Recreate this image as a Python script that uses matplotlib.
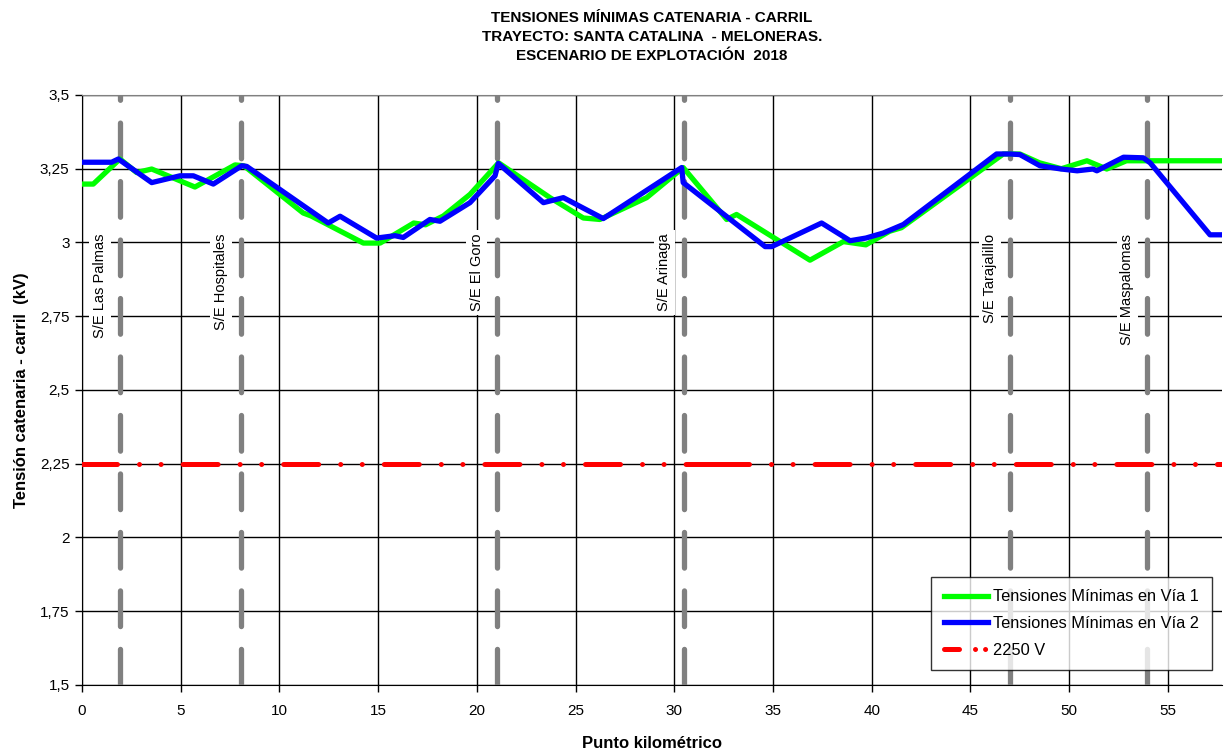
import numpy as np
import matplotlib
matplotlib.use('Agg')
import matplotlib.pyplot as plt
from matplotlib.lines import Line2D
from matplotlib.ticker import FuncFormatter, MultipleLocator

plt.rcParams['font.family'] = ['Liberation Sans', 'DejaVu Sans']

# datos (km, kV)
km_via1 = [0, 0.57, 1.92, 2.77, 3.53, 5.72, 7.75, 8.2, 11.2, 11.6, 14.25, 15.1,
           16.8, 17.4, 18.3, 19.65, 21.1, 23.7, 25.39, 26.23, 28.6, 30.45,
           32.65, 33.15, 36.87, 38.56, 39.7, 40.9, 41.5, 46.66, 47.5, 48.5,
           49.6, 50.9, 51.9, 52.9, 57.74]
v_via1 = [3.198, 3.198, 3.283, 3.237, 3.249, 3.188, 3.263, 3.26, 3.10, 3.09,
          2.998, 2.998, 3.066, 3.06, 3.09, 3.163, 3.27, 3.152, 3.083, 3.078,
          3.152, 3.254, 3.078, 3.095, 2.94, 3.003, 2.992, 3.038, 3.05, 3.30,
          3.30, 3.27, 3.25, 3.277, 3.249, 3.277, 3.277]

km_via2 = [0, 1.5, 1.84, 3.53, 4.96, 5.64, 6.65, 8.09, 8.34, 12.47, 13.07,
           14.92, 15.85, 16.27, 17.62, 18.13, 19.65, 20.92, 21.08, 23.37,
           24.38, 26.4, 30.37, 30.45, 34.6, 34.93, 37.46, 38.9, 39.7, 40.58,
           41.6, 46.32, 47.0, 47.5, 48.52, 49.6, 50.4, 51.2, 51.4, 52.75,
           53.75, 54.1, 57.13, 57.74]
v_via2 = [3.272, 3.272, 3.283, 3.203, 3.226, 3.226, 3.198, 3.26, 3.258, 3.066,
          3.089, 3.015, 3.023, 3.017, 3.078, 3.072, 3.135, 3.226, 3.268, 3.135,
          3.152, 3.081, 3.254, 3.203, 2.986, 2.986, 3.066, 3.006, 3.015, 3.032,
          3.061, 3.30, 3.30, 3.298, 3.26, 3.249, 3.243, 3.249, 3.243, 3.289,
          3.287, 3.27, 3.026, 3.026]

km_limite = [0, 32.0, 57.74]
v_limite = [2.25, 2.25, 2.25]

subestaciones = ['S/E Las Palmas', 'S/E Hospitales', 'S/E El Goro',
                 'S/E Arinaga', 'S/E Tarajalillo', 'S/E Maspalomas']
km_subest = [1.92, 8.05, 21.0, 30.5, 47.0, 53.95]

titulo = ('TENSIONES MÍNIMAS CATENARIA - CARRIL\n'
          'TRAYECTO: SANTA CATALINA  - MELONERAS.\n'
          'ESCENARIO DE EXPLOTACIÓN  2018')


def main():
    fig = plt.figure(figsize=(12.24, 7.52), dpi=100)
    ax = fig.add_axes([0.067, 0.0891, 0.9314, 0.7846])

    ax.set_xlim(0, 57.74)
    ax.set_ylim(1.5, 3.5)

    # lineas de subestaciones
    for nombre, k in zip(subestaciones, km_subest):
        ax.plot([k, k], [3.5, 1.5], color='#808080', lw=3.8,
                ls=(5.85, (6.76, 4.32)), dash_capstyle='round', zorder=3)
        ax.annotate(nombre, xy=(k, 3.03), xytext=(-20, 0),
                    textcoords='offset pixels', rotation=90, ha='center',
                    va='top', fontsize=10.5, zorder=4,
                    bbox=dict(boxstyle='square,pad=0.25', fc='white', ec='none'))

    patron = (0, (7.0, 4.4, 0.01, 4.3, 0.01, 4.4))
    for i in range(len(km_limite) - 1):
        ax.plot(km_limite[i:i + 2], v_limite[i:i + 2], color='red', lw=3.6,
                ls=patron, dash_capstyle='round', zorder=5)

    l1, = ax.plot(km_via1, v_via1, color='#00ff00', lw=3.8, zorder=6,
                  solid_joinstyle='round')
    l2, = ax.plot(km_via2, v_via2, color='#0000ff', lw=3.8, zorder=7,
                  solid_joinstyle='round')

    ax.xaxis.set_major_locator(MultipleLocator(5))
    ax.yaxis.set_major_locator(MultipleLocator(0.25))
    ax.yaxis.set_major_formatter(
        FuncFormatter(lambda v, p: ('%g' % v).replace('.', ',')))
    ax.grid(True, color='black', lw=1.0)
    ax.set_axisbelow(True)
    ax.tick_params(labelsize=11, length=5, width=1, color='black')
    ax.tick_params(axis='x', pad=9)
    ax.tick_params(axis='y', pad=4)
    for s in ['left', 'bottom']:
        ax.spines[s].set_color('black')
    ax.spines['top'].set_color('#808080')
    ax.spines['right'].set_visible(False)

    ax.set_xlabel('Punto kilométrico', fontsize=12, fontweight='bold',
                  labelpad=13)
    ax.set_ylabel('Tensión catenaria - carril  (kV)', fontsize=12,
                  fontweight='bold', labelpad=8)
    fig.text(0.5327, 0.985, titulo, ha='center', va='top', fontsize=11,
             fontweight='bold', linespacing=1.42)

    # leyenda: muestra corta del trazo rojo
    rojo = Line2D([], [], color='red', lw=3.6, dash_capstyle='round',
                  ls=(0, (3.0, 3.2, 0.01, 2.0, 0.01, 6.0)))
    leg = ax.legend([l1, l2, rojo],
                    ['Tensiones Mínimas en Vía 1', 'Tensiones Mínimas en Vía 2',
                     '2250 V'],
                    loc='lower right', bbox_to_anchor=(0.991, 0.025),
                    fontsize=11.8, frameon=True, fancybox=False,
                    handlelength=2.7, handletextpad=0.35, borderpad=0.75,
                    labelspacing=0.72, borderaxespad=0)
    leg.get_frame().set_edgecolor('black')
    leg.get_frame().set_linewidth(1.0)
    leg.set_zorder(10)

    fig.savefig('out.png', dpi=100, facecolor='white')


if __name__ == '__main__':
    main()
